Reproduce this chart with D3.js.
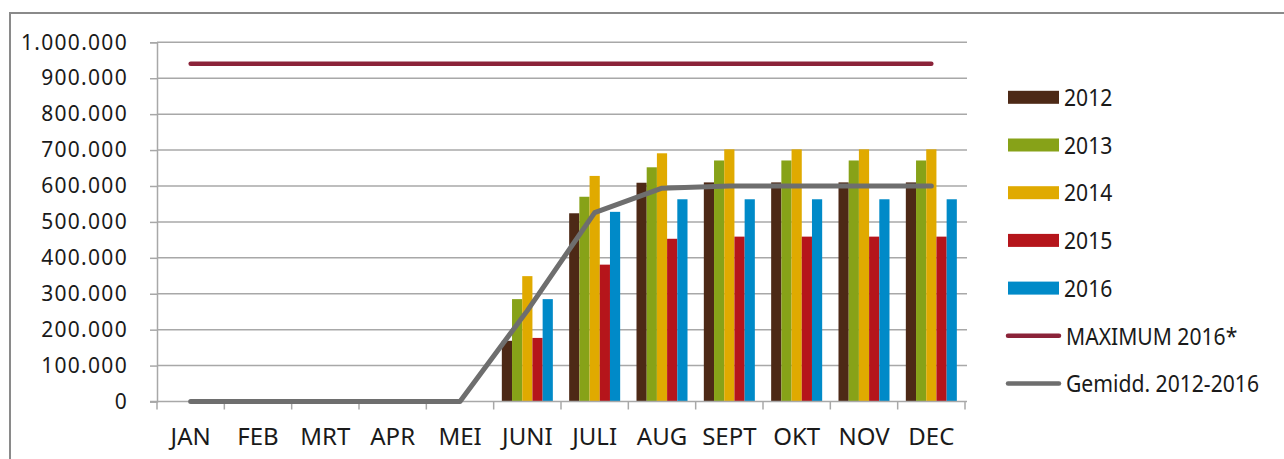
<!DOCTYPE html>
<html>
<head>
<meta charset="utf-8">
<script src="https://cdn.jsdelivr.net/npm/d3@7"></script>
<style>
  html, body { margin: 0; padding: 0; background: #fff; }
  svg { display: block; }
  text { font-family: "Noto Sans", "Open Sans", sans-serif; fill: #1a1a1a; }
</style>
</head>
<body>
<svg id="chart" width="1284" height="459"></svg>
<script>
// Months on the category axis
const months = ["JAN", "FEB", "MRT", "APR", "MEI", "JUNI", "JULI", "AUG", "SEPT", "OKT", "NOV", "DEC"];

// Yearly series (cumulative values per month)
const years = ["2012", "2013", "2014", "2015", "2016"];
const v2012 = [0, 0, 0, 0, 0, 169000, 524000, 609000, 610000, 610000, 610000, 610000];
const v2013 = [0, 0, 0, 0, 0, 285000, 570000, 652000, 671000, 671000, 671000, 671000];
const v2014 = [0, 0, 0, 0, 0, 349000, 628000, 691000, 702000, 702000, 702000, 702000];
const v2015 = [0, 0, 0, 0, 0, 177000, 381000, 453000, 459000, 459000, 459000, 459000];
const v2016 = [0, 0, 0, 0, 0, 285000, 528000, 563000, 563000, 563000, 563000, 563000];

// Reference lines
const maximum2016 = [940000, 940000, 940000, 940000, 940000, 940000, 940000, 940000, 940000, 940000, 940000, 940000];
const average = [0, 0, 0, 0, 0, 253000, 526000, 594000, 600000, 600000, 600000, 600000];

const yTicks = [0, 100000, 200000, 300000, 400000, 500000, 600000, 700000, 800000, 900000, 1000000];

const seriesValues = [v2012, v2013, v2014, v2015, v2016];
const barColors = ["#4d2916", "#87a218", "#e0aa00", "#b5151b", "#008ac8"];
const maxColor = "#8b2339";
const avgColor = "#6e6e6e";
const gridColor = "#a8a8a8";

const svg = d3.select("#chart");

// Outer frame
svg.append("rect")
  .attr("x", 10).attr("y", 13)
  .attr("width", 1300).attr("height", 500)
  .attr("fill", "none")
  .attr("stroke", "#8a8a8a")
  .attr("stroke-width", 2);

const plot = { left: 157, right: 965, top: 42.3, bottom: 401.5 };

const x0 = d3.scaleBand().domain(months).range([plot.left, plot.right]).padding(0);
const x1 = d3.scaleBand().domain(years).range([0, x0.bandwidth()]).paddingInner(0).paddingOuter(0.8);
const y = d3.scaleLinear().domain([0, 1000000]).range([plot.bottom, plot.top]);

const fmt = v => d3.format(",")(v).replace(/,/g, ".");

// Horizontal gridlines
svg.append("g")
  .selectAll("line")
  .data(yTicks.filter(t => t > 0))
  .join("line")
  .attr("x1", plot.left).attr("x2", plot.right + 2)
  .attr("y1", d => y(d)).attr("y2", d => y(d))
  .attr("stroke", gridColor).attr("stroke-width", 1.5);

// Y axis
const yAxis = svg.append("g")
  .attr("transform", `translate(${plot.left},0)`)
  .call(d3.axisLeft(y).tickValues(yTicks).tickFormat(fmt).tickSize(7).tickPadding(22));
yAxis.select(".domain").attr("stroke", gridColor).attr("stroke-width", 1.5);
yAxis.selectAll(".tick line").attr("stroke", gridColor).attr("stroke-width", 1.5);
yAxis.selectAll(".tick text")
  .attr("font-size", 21).attr("font-family", "Noto Sans")
  .attr("letter-spacing", 1.3)
  .attr("fill", "#1a1a1a");

// Bars
const groups = svg.append("g")
  .selectAll("g")
  .data(months)
  .join("g")
  .attr("transform", d => `translate(${x0(d)},0)`);

groups.selectAll("rect")
  .data((m, i) => years.map((yr, k) => ({ yr, k, v: seriesValues[k][i] })))
  .join("rect")
  .attr("x", d => x1(d.yr))
  .attr("width", x1.bandwidth())
  .attr("y", d => y(d.v))
  .attr("height", d => y(0) - y(d.v))
  .attr("fill", d => barColors[d.k]);

// X axis
const xAxis = svg.append("g")
  .attr("transform", `translate(0,${plot.bottom})`)
  .call(d3.axisBottom(x0).tickSize(0).tickPadding(0));
xAxis.select(".domain").remove();
xAxis.append("line")
  .attr("x1", plot.left - 7).attr("x2", plot.right + 2)
  .attr("stroke", gridColor).attr("stroke-width", 1.5);
xAxis.selectAll(".boundary")
  .data(months.concat(["__end"]))
  .join("line")
  .attr("class", "boundary")
  .attr("x1", (d, i) => i < months.length ? x0(d) : plot.right)
  .attr("x2", (d, i) => i < months.length ? x0(d) : plot.right)
  .attr("y1", 0).attr("y2", 8)
  .attr("stroke", gridColor).attr("stroke-width", 1.5);
xAxis.selectAll(".tick text")
  .attr("y", 43.5).attr("dy", 0)
  .attr("font-size", 24).attr("font-family", "Noto Sans")
  .attr("fill", "#1a1a1a");

// Lines through the month centres
const line = d3.line()
  .x((d, i) => x0(months[i]) + x0.bandwidth() / 2)
  .y(d => y(d));

svg.append("path")
  .datum(maximum2016)
  .attr("d", line)
  .attr("fill", "none")
  .attr("stroke", maxColor)
  .attr("stroke-width", 4.5)
  .attr("stroke-linecap", "round");

svg.append("path")
  .datum(average)
  .attr("d", line)
  .attr("fill", "none")
  .attr("stroke", avgColor)
  .attr("stroke-width", 5)
  .attr("stroke-linecap", "round")
  .attr("stroke-linejoin", "round");

// Legend
const legendItems = years.map((yr, k) => ({ label: yr, type: "bar", color: barColors[k] }))
  .concat([
    { label: "MAXIMUM 2016*", type: "line", color: maxColor },
    { label: "Gemidd. 2012-2016", type: "line", color: avgColor }
  ]);

const legend = svg.append("g").attr("transform", "translate(1008,97.3)");
const item = legend.selectAll("g")
  .data(legendItems)
  .join("g")
  .attr("transform", (d, i) => `translate(0,${i * 47.7})`);

item.filter(d => d.type === "bar")
  .append("rect")
  .attr("x", 0).attr("y", -6.5)
  .attr("width", 51).attr("height", 13)
  .attr("fill", d => d.color);

item.filter(d => d.type === "line")
  .append("line")
  .attr("x1", 0).attr("x2", 51)
  .attr("stroke", d => d.color)
  .attr("stroke-width", 4.5)
  .attr("stroke-linecap", "round");

item.append("text")
  .attr("transform", d => `translate(${d.type === "bar" ? 56 : 58},8.7) scale(0.88,1)`)
  .attr("font-size", 24)
  .attr("font-family", "Noto Sans")
  .text(d => d.label);
</script>
</body>
</html>
